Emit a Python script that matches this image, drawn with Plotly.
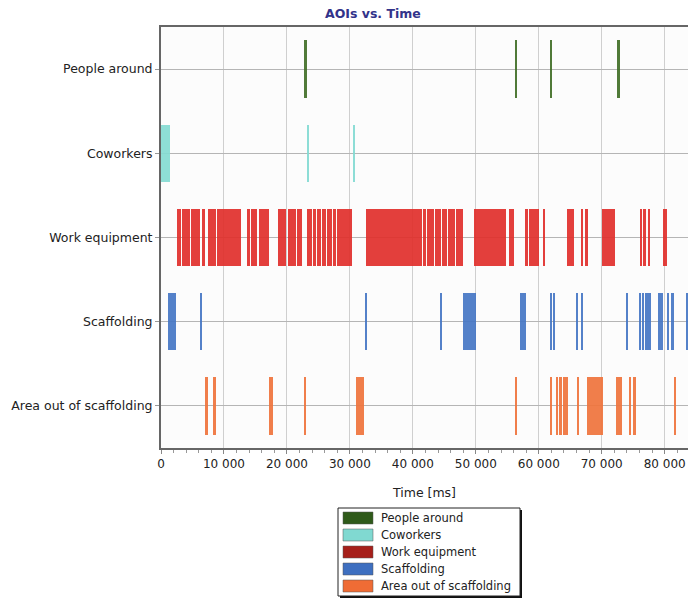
import plotly.graph_objects as go

aois = ["People around", "Coworkers", "Work equipment", "Scaffolding", "Area out of scaffolding"]

people_start = [22750, 56300, 61900, 72450]
people_end = [23150, 56550, 62150, 72850]

coworkers_start = [0, 23300, 30650]
coworkers_end = [1400, 23550, 30850]

equipment_start = [2570, 3360, 4720, 6460, 7510, 8920, 9760, 13700, 14330, 15490,
                   18580, 20100, 21520, 23150, 24150, 24830, 25620, 26400, 27350, 27980,
                   32490, 41550, 42200, 43500, 44550, 45600, 46900, 49790, 51850, 55260,
                   57790, 58450, 60680, 64420, 66740, 67370, 70000, 76000, 76630, 77370,
                   79680]
equipment_end = [3200, 4570, 6250, 7030, 8770, 9610, 12700, 14120, 15280, 17220,
                 19900, 21370, 22470, 23940, 24620, 25410, 26190, 27140, 27770, 30390,
                 41400, 42050, 43350, 44400, 45450, 46750, 48000, 51700, 54740, 56000,
                 58300, 60100, 60950, 65530, 67050, 67740, 72100, 76320, 76950, 77690,
                 80320]

scaffold_start = [1100, 6250, 32400, 44350, 48000, 57050, 61800, 62250, 66050, 66700,
                  73950, 75850, 76400, 76900, 78970, 80300, 80950, 83450]
scaffold_end = [2450, 6450, 32600, 44700, 50000, 57900, 62050, 62600, 66300, 67100,
                74200, 76200, 76650, 77850, 79750, 80700, 81500, 83650]

area_start = [7140, 8350, 17110, 22730, 31020, 56250, 61800, 62750, 63150, 63850,
              66050, 67650, 72250, 74400, 74900, 81450]
area_end = [7400, 8660, 17800, 23100, 32180, 56550, 62100, 63050, 63700, 64650,
            66400, 70200, 73150, 74700, 75400, 81800]

x_tick_vals = [0, 10000, 20000, 30000, 40000, 50000, 60000, 70000, 80000]

bar_colors = ["#426f28", "#84dbd3", "#e1302c", "#4677c5", "#f0743c"]
legend_colors = ["#2f5a1a", "#80d9d1", "#a61f1a", "#3e6fc0", "#ef6c35"]

series = [
    (people_start, people_end),
    (coworkers_start, coworkers_end),
    (equipment_start, equipment_end),
    (scaffold_start, scaffold_end),
    (area_start, area_end),
]

W, H = 688, 599
ML, MR, MT, MB = 161, 0, 27, 151
PW, PH = W - ML - MR, H - MT - MB


def px(x):
    return (x - ML) / PW


def py(y):
    return (H - MB - y) / PH


fig = go.Figure()

for name, (starts, ends), col in zip(aois, series, bar_colors):
    fig.add_trace(go.Bar(
        orientation="h",
        y=[name] * len(starts),
        base=starts,
        x=[e - s for s, e in zip(starts, ends)],
        width=0.68,
        marker=dict(color=col, line=dict(width=0)),
        opacity=0.92,
        showlegend=False,
        hoverinfo="skip",
    ))

FONT = "DejaVu Sans"

# Legend box (drawn by hand to match the reference's compact layout)
shapes = [
    dict(type="rect", xref="paper", yref="paper",
         x0=px(340), x1=px(522), y0=py(598), y1=py(510),
         fillcolor="#111111", line=dict(width=0), layer="above"),
    dict(type="rect", xref="paper", yref="paper",
         x0=px(338), x1=px(520), y0=py(596), y1=py(508),
         fillcolor="white", line=dict(color="#222222", width=1), layer="above"),
]
annotations = []
row_y = [518, 535, 552, 569, 586]
for name, col, yc in zip(aois, legend_colors, row_y):
    shapes.append(dict(type="rect", xref="paper", yref="paper",
                       x0=px(343), x1=px(373), y0=py(yc + 6), y1=py(yc - 6),
                       fillcolor=col, line=dict(color="#555555", width=0.5), layer="above"))
    annotations.append(dict(xref="paper", yref="paper", x=px(379), y=py(yc),
                            xanchor="left", yanchor="middle", showarrow=False,
                            text=name, font=dict(family=FONT, size=11.5, color="#222222")))

fig.update_layout(
    width=W, height=H,
    margin=dict(l=ML, r=MR, t=MT, b=MB, autoexpand=False),
    paper_bgcolor="white",
    plot_bgcolor="#fcfcfc",
    barmode="overlay",
    bargap=0,
    separators=". ",
    showlegend=False,
    font=dict(family=FONT, size=12, color="#222222"),
    title=dict(text="<b>AOIs vs. Time</b>", x=0.542, xanchor="center",
               y=1 - 14 / 599, yanchor="middle", yref="container",
               font=dict(family=FONT, size=12.5, color="#33338a")),
    xaxis=dict(
        range=[0, 83700],
        tickvals=x_tick_vals,
        tickformat=",d",
        showgrid=True, gridcolor="#cfcfcf", gridwidth=1,
        showline=True, linecolor="#666666", linewidth=2, mirror=True,
        ticks="outside", ticklen=4, tickcolor="#888888",
        minor=dict(dtick=2000, ticks="outside", ticklen=3, tickcolor="#999999", showgrid=False),
        tickfont=dict(family=FONT, size=12, color="#222222"),
        title=dict(text="Time [ms]", font=dict(family=FONT, size=12.5, color="#222222"), standoff=18),
        zeroline=False,
    ),
    yaxis=dict(
        type="category",
        categoryorder="array",
        categoryarray=aois[::-1],
        range=[-0.5, 4.5],
        showgrid=True, gridcolor="#b5b5b5", gridwidth=1,
        showline=True, linecolor="#666666", linewidth=2, mirror=True,
        ticks="outside", ticklen=4, tickcolor="#999999",
        tickfont=dict(family=FONT, size=12.5, color="#222222"),
        zeroline=False,
    ),
    shapes=shapes,
    annotations=annotations,
)

fig.write_html("out.html")
